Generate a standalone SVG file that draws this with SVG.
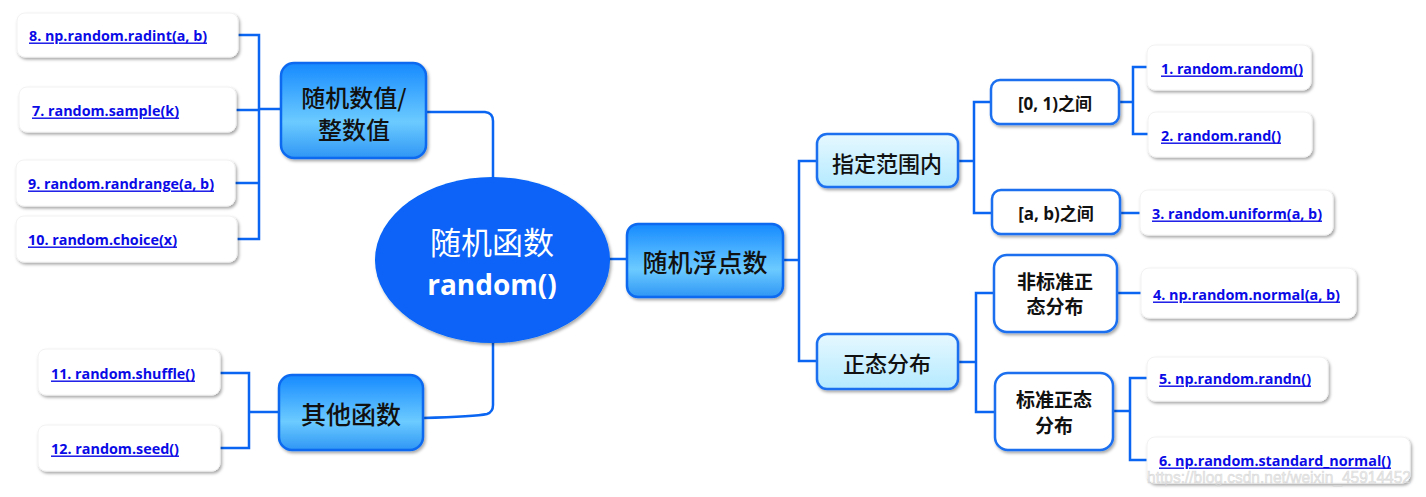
<svg xmlns="http://www.w3.org/2000/svg" width="1426" height="497" viewBox="0 0 1426 497">
<defs>
<filter id="sh" x="-10%" y="-20%" width="125%" height="150%">
<feDropShadow dx="1.5" dy="2" stdDeviation="1.6" flood-color="#000" flood-opacity="0.35"/>
</filter>
<linearGradient id="gMain" x1="0" y1="0" x2="0" y2="1">
<stop offset="0" stop-color="#168aff"/>
<stop offset="0.62" stop-color="#6ccbff"/>
<stop offset="1" stop-color="#2f96f5"/>
</linearGradient>
<linearGradient id="gSub" x1="0" y1="0" x2="0" y2="1">
<stop offset="0" stop-color="#e6f8ff"/>
<stop offset="1" stop-color="#b4eaff"/>
</linearGradient>
<style>
.conn path{fill:none;stroke:#0a66f2;stroke-width:2.5}
.leaf rect{fill:#fff;stroke:#f2f2f2;stroke-width:1;filter:url(#sh)}
.leaf text{font-family:"Open Sans","Liberation Sans",sans-serif;font-weight:bold;font-size:14px;fill:#0a0ae6;text-decoration:underline;dominant-baseline:central}
.main rect{fill:url(#gMain);stroke:#0a6af0;stroke-width:2.5;filter:url(#sh)}
.sub rect{fill:url(#gSub);stroke:#1a70f0;stroke-width:2.5;filter:url(#sh)}
.l3 rect{fill:#fff;stroke:#1a70f0;stroke-width:2.5;filter:url(#sh)}
.cjk{font-family:"Noto Sans CJK SC","Noto Sans",sans-serif;fill:#111;text-anchor:middle;dominant-baseline:central}
.main text,.sub text{font-weight:500}
.l3 text{font-family:"Open Sans","Noto Sans CJK SC",sans-serif;font-weight:bold;font-size:17px;fill:#111;text-anchor:middle;dominant-baseline:central}
</style>
</defs>
<rect width="1426" height="497" fill="#fff"/>

<g id="connectors" class="conn">
<path d="M238,35 H259 V239 H237"/>
<path d="M236,110 H259"/>
<path d="M235,183 H259"/>
<path d="M259,109 H281"/>
<path d="M426,112 H485 Q493,113 493,121 V178"/>
<path d="M423,418 C460,417 478,416 487,414 Q493,412 493,405 V342"/>
<path d="M220,373 H249 V448 H220"/>
<path d="M249,412 H279"/>
<path d="M609,259 H627"/>
<path d="M783,260 H799"/>
<path d="M817,161 H799 V361 H817"/>
<path d="M958,161 H974"/>
<path d="M991,102 H974 V213 H992"/>
<path d="M1119,102 H1133"/>
<path d="M1147,67 H1133 V134 H1148"/>
<path d="M1120,213 H1140"/>
<path d="M958,362 H976"/>
<path d="M994,293 H976 V412 H995"/>
<path d="M1117,293 H1141"/>
<path d="M1113,411 H1130"/>
<path d="M1147,378 H1130 V460 H1147"/>
</g>

<g id="root">
<ellipse cx="492.5" cy="260" rx="117.5" ry="83" fill="#0764f7" filter="url(#sh)"/>
<text x="492" y="240" class="cjk" style="fill:#fff;font-size:31px">随机函数</text>
<text x="492" y="284" style="font-family:'Open Sans','Liberation Sans',sans-serif;font-weight:bold;font-size:28px;fill:#fff;text-anchor:middle;dominant-baseline:central">random()</text>
</g>

<g id="n-int" class="main">
<rect x="281" y="63" width="145" height="95" rx="13"/>
<text x="354" y="96" class="cjk" style="font-size:24px">随机数值/</text>
<text x="354" y="128" class="cjk" style="font-size:24px">整数值</text>
</g>
<g id="n-other" class="main">
<rect x="279" y="375" width="144" height="75" rx="13"/>
<text x="351" y="413" class="cjk" style="font-size:25px">其他函数</text>
</g>
<g id="n-float" class="main">
<rect x="627" y="224" width="156" height="73" rx="11"/>
<text x="705" y="261" class="cjk" style="font-size:25px">随机浮点数</text>
</g>

<g id="n-range" class="sub">
<rect x="817" y="134" width="141" height="53" rx="10"/>
<text x="887" y="162" class="cjk" style="font-size:22px">指定范围内</text>
</g>
<g id="n-normal" class="sub">
<rect x="817" y="334" width="141" height="55" rx="10"/>
<text x="887" y="362" class="cjk" style="font-size:22px">正态分布</text>
</g>

<g id="n-01" class="l3">
<rect x="991" y="80" width="128" height="44" rx="9"/>
<text x="1055" y="103">[0, 1)之间</text>
</g>
<g id="n-ab" class="l3">
<rect x="992" y="190" width="128" height="44" rx="9"/>
<text x="1056" y="213">[a, b)之间</text>
</g>
<g id="n-nonstd" class="l3">
<rect x="994" y="255" width="123" height="77" rx="13"/>
<text x="1055" y="282" class="cjk" style="font-size:19px;font-weight:bold">非标准正</text>
<text x="1055" y="307" class="cjk" style="font-size:19px;font-weight:bold">态分布</text>
</g>
<g id="n-std" class="l3">
<rect x="995" y="373" width="118" height="77" rx="13"/>
<text x="1054" y="400" class="cjk" style="font-size:19px;font-weight:bold">标准正态</text>
<text x="1054" y="426" class="cjk" style="font-size:19px;font-weight:bold">分布</text>
</g>

<g id="leaf8" class="leaf"><rect x="17" y="13" width="221" height="44" rx="8"/><text x="29" y="35" textLength="178" lengthAdjust="spacingAndGlyphs">8. np.random.radint(a, b)</text></g>
<g id="leaf7" class="leaf"><rect x="19" y="87" width="217" height="45" rx="8"/><text x="32" y="110" textLength="147" lengthAdjust="spacingAndGlyphs">7. random.sample(k)</text></g>
<g id="leaf9" class="leaf"><rect x="16" y="160" width="219" height="46" rx="8"/><text x="28" y="183" textLength="186" lengthAdjust="spacingAndGlyphs">9. random.randrange(a, b)</text></g>
<g id="leaf10" class="leaf"><rect x="16" y="216" width="221" height="46" rx="8"/><text x="28" y="239" textLength="149" lengthAdjust="spacingAndGlyphs">10. random.choice(x)</text></g>
<g id="leaf11" class="leaf"><rect x="38" y="349" width="182" height="46" rx="8"/><text x="51" y="373" textLength="144" lengthAdjust="spacingAndGlyphs">11. random.shuffle()</text></g>
<g id="leaf12" class="leaf"><rect x="38" y="425" width="182" height="46" rx="8"/><text x="51" y="448" textLength="128" lengthAdjust="spacingAndGlyphs">12. random.seed()</text></g>
<g id="leaf1" class="leaf"><rect x="1147" y="45" width="164" height="45" rx="8"/><text x="1161" y="68" textLength="142" lengthAdjust="spacingAndGlyphs">1. random.random()</text></g>
<g id="leaf2" class="leaf"><rect x="1148" y="112" width="164" height="45" rx="8"/><text x="1161" y="135" textLength="120" lengthAdjust="spacingAndGlyphs">2. random.rand()</text></g>
<g id="leaf3" class="leaf"><rect x="1140" y="190" width="193" height="45" rx="8"/><text x="1152" y="213" textLength="170" lengthAdjust="spacingAndGlyphs">3. random.uniform(a, b)</text></g>
<g id="leaf4" class="leaf"><rect x="1141" y="268" width="215" height="50" rx="8"/><text x="1153" y="294" textLength="187" lengthAdjust="spacingAndGlyphs">4. np.random.normal(a, b)</text></g>
<g id="leaf5" class="leaf"><rect x="1147" y="357" width="181" height="44" rx="8"/><text x="1159" y="378" textLength="152" lengthAdjust="spacingAndGlyphs">5. np.random.randn()</text></g>
<g id="leaf6" class="leaf"><rect x="1147" y="437" width="263" height="46" rx="8"/><text x="1159" y="460" textLength="232" lengthAdjust="spacingAndGlyphs">6. np.random.standard_normal()</text></g>

<text x="1147" y="477" textLength="264" lengthAdjust="spacingAndGlyphs" style="font-family:'Liberation Sans',sans-serif;font-size:16px;fill:#e6e6e6;fill-opacity:0.7;stroke:#bdbdbd;stroke-opacity:0.5;stroke-width:0.6;dominant-baseline:central">https://blog.csdn.net/weixin_45914452</text>
</svg>
